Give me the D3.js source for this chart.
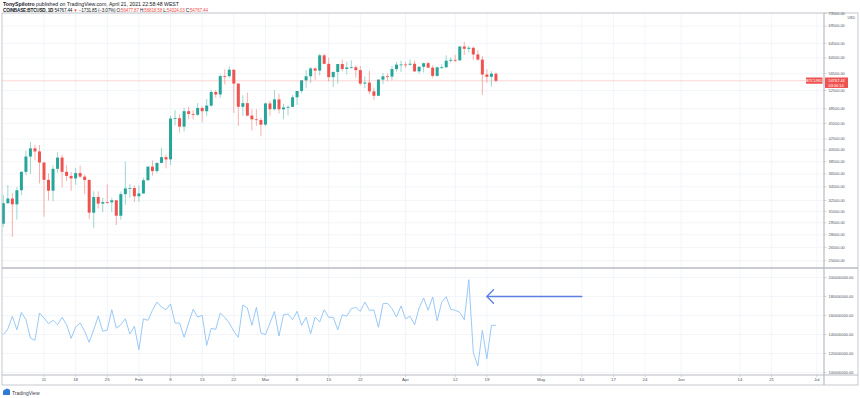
<!DOCTYPE html>
<html>
<head>
<meta charset="utf-8">
<script src="https://cdn.jsdelivr.net/npm/d3@7"></script>
<style>
  body { margin: 0; background: #fff; }
  svg { display: block; font-family: "Liberation Sans", Arial, sans-serif; }
</style>
</head>
<body>
<svg id="chart"></svg>
<script>
// daily candles, Jan 2 .. Apr 21 2021 (COINBASE:BTCUSD, 1D)
const startDate = "2021-01-02";

const opens = [
  29376, 32127, 32782, 31971, 33992, 36824, 39371, 40797, 40254, 38356,
  35566, 33923, 37316, 39187, 36825, 36178, 35792, 36630, 36069, 35548,
  30826, 33005, 32067, 32278, 32244, 32536, 30420, 33420, 34262, 34320,
  33108, 33520, 35510, 37675, 36950, 38290, 39260, 38880, 46450, 46530,
  44850, 47970, 47400, 47230, 48650, 47960, 49150, 52150, 51590, 55900,
  55880, 57480, 54100, 48900, 49680, 47060, 46300, 46150,
  45240, 49620, 48380, 50500, 48360, 48750, 48880, 50970, 52390, 54880,
  55850, 57800, 57250, 61190, 58970, 55650, 56920, 58920, 57660, 58030,
  58100, 57370, 54100, 54350, 52300, 51300, 55050, 55850, 55780, 57630,
  58760,
  58800, 58730, 58990, 57060, 58210, 59130, 57990, 55950, 58080, 58100,
  59770, 60000, 59860, 63580, 62960, 63240, 61430, 60070, 56280, 55720, 56478
];
const highs = [
  33300, 34778, 33600, 34437, 36939, 40365, 41950, 41380, 41400, 38356,
  36600, 37850, 40100, 39700, 37900, 36800, 37400, 37850, 36400, 35600,
  33850, 33800, 32900, 34880, 32900, 32560, 33800, 38500, 34900, 34700,
  34700, 35900, 37700, 38700, 38300, 40900, 39700, 47000, 48200, 47300,
  48700, 48900, 48200, 49700, 49000, 50600, 52600, 52600, 56300, 57600,
  58350, 57500, 54200, 51400, 52000, 48400, 48400, 46600,
  49800, 50200, 52600, 51800, 49500, 49200, 51450, 52400, 54900, 57400,
  58100, 58000, 61700, 61600, 60600, 57000, 58950, 60100, 59500, 59900,
  58600, 58400, 55800, 57200, 53200, 55100, 56600, 56600, 58400, 59400,
  59800,
  59500, 60100, 59800, 58500, 59250, 59500, 58600, 58200, 58900, 61200,
  60700, 61300, 63800, 64900, 63800, 63600, 62600, 61000, 57600, 57100, 56819
];
const lows = [
  28946, 32000, 27734, 29900, 33288, 36300, 36500, 38720, 35000, 30300,
  32500, 32400, 36700, 34400, 35400, 33900, 34800, 35900, 33400, 30000,
  28800, 31400, 30900, 32000, 30900, 29200, 29900, 31900, 32900, 32300,
  32300, 33450, 35400, 36200, 36600, 38200, 37400, 37950, 45100, 43700,
  43900, 46300, 46300, 47000, 45700, 47000, 48900, 50900, 50800, 53900,
  55500, 47600, 45000, 47000, 46900, 44100, 45000, 43000,
  45000, 47050, 48100, 47500, 46300, 47100, 48880, 49300, 51850, 53000,
  54300, 55000, 56100, 58900, 54600, 53300, 54100, 57000, 56300, 57800,
  55500, 53700, 53000, 51700, 50400, 51300, 53950, 54700, 54900, 57000,
  56900,
  57900, 58500, 56900, 56500, 56800, 57900, 55500, 55750, 57700, 57900,
  59300, 59400, 59860, 61300, 62000, 60000, 59700, 51500, 54300, 53400, 54324
];
const closes = [
  32127, 32782, 31971, 33992, 36824, 39371, 40797, 40254, 38356, 35566,
  33923, 37316, 39187, 36825, 36178, 35792, 36630, 36069, 35548, 30826,
  33005, 32067, 32278, 32244, 32536, 30420, 33420, 34262, 34320, 33108,
  33520, 35510, 37675, 36950, 38290, 39260, 38880, 46450, 46530, 44850,
  47970, 47400, 47230, 48650, 47960, 49150, 52150, 51590, 55900, 55880,
  57480, 54100, 48900, 49680, 47060, 46300, 46150, 45240,
  49620, 48380, 50500, 48360, 48750, 48880, 50970, 52390, 54880, 55850,
  57800, 57250, 61190, 58970, 55650, 56920, 58920, 57660, 58030, 58100,
  57370, 54100, 54350, 52300, 51300, 55050, 55850, 55780, 57630, 58760,
  58800,
  58730, 58990, 57060, 58210, 59130, 57990, 55950, 58080, 58100, 59770,
  60000, 59860, 63580, 62960, 63240, 61430, 60070, 56280, 55720, 56499, 54767
];

// lower pane indicator, in millions
const indicator = [
  140, 145.8, 159.2, 145, 163.3, 155.6, 136.3, 133.9, 162.6, 157.4,
  151.4, 154.9, 150.3, 158.1, 150.3, 136, 147.9, 152.1, 143.4, 131.8,
  145, 159.2, 143.4, 144.7, 166.1, 146.8, 150.3, 156.6, 140.5, 148.6,
  124, 156.6, 154.9, 165.5, 174.2, 168.9, 166.1, 172.1, 152.1, 152.1,
  137.1, 152.1, 166.5, 158.4, 160.2, 128.6, 146.5, 145.4, 162.6, 158.1,
  152.1, 143.4, 137.1, 171.1, 167.9, 149.7, 168.6, 141.6, 139.8, 152.1,
  164.2, 138.4, 160.8, 161.6, 155.6, 164.4, 149.7, 158.1, 140.8, 158.4,
  153.2, 166.1, 158.1, 158.1, 145, 160.8, 159.2, 167.2, 168.6, 164.4,
  174.2, 165.5, 165.8, 147.6, 172.4, 172.8, 167.2, 158.4, 170, 156.6,
  159.2, 150.3, 167.9, 178.4, 165.5, 179.5, 154.5, 173.9, 179.8, 166.5,
  165.5, 163.3, 155.6, 197.7, 120.8, 106.8, 144.4, 114.5, 149.7, 149.7
];

const priceTicks = [73500, 69500, 64500, 60500, 56500, 52500, 48500, 45500, 42500,
  40500, 38500, 36500, 34500, 32500, 31000, 29500, 28000, 26500, 25000];
const indicatorTicks = [100, 120, 140, 160, 180, 200];

const timeTicks = ["2021-01-11", "2021-01-18", "2021-01-25", "2021-02-01", "2021-02-08",
  "2021-02-15", "2021-02-22", "2021-03-01", "2021-03-08", "2021-03-15", "2021-03-22",
  "2021-04-01", "2021-04-12", "2021-04-19", "2021-05-01", "2021-05-10", "2021-05-17",
  "2021-05-24", "2021-06-01", "2021-06-14", "2021-06-21", "2021-07-01"];
const timeLabels = ["11", "18", "25", "Feb", "8", "15", "22", "Mar", "8", "15", "22",
  "Apr", "12", "19", "May", "10", "17", "24", "Jun", "14", "21", "Jul"];

const lastPrice = 54767.44;
const arrowFrom = "2021-05-10", arrowTo = "2021-04-19", arrowLevel = 180;

const width = 860, height = 398;
const left = 2, right = 824, outerRight = 858;
const mainTop = 13, mainBottom = 268, lowBottom = 375, axisBottom = 385;

const green = "#26a69a", red = "#ef5350";
const gridColor = "#eff2f7", frameColor = "#b8bbc3", textColor = "#50535e";

const parse = d3.utcParse("%Y-%m-%d");
const dates = opens.map((_, i) => d3.utcDay.offset(parse(startDate), i));
const candles = dates.map((d, i) => ({
  date: d, open: opens[i], high: highs[i], low: lows[i], close: closes[i], ind: indicator[i]
}));

const svg = d3.select("#chart").attr("width", width).attr("height", height);
svg.append("rect").attr("width", width).attr("height", height).attr("fill", "#fff");

const x = d3.scaleUtc()
  .domain([Date.UTC(2021, 0, 1), Date.UTC(2021, 6, 1)])
  .range([-1.2, 816.8]);
const y = d3.scaleLog().domain([24220, 73590]).range([mainBottom, mainTop]);
const yInd = d3.scaleLinear().domain([97.4, 210]).range([lowBottom, mainBottom]);

const defs = svg.append("defs");
defs.append("clipPath").attr("id", "clipMain")
  .append("rect").attr("x", left).attr("y", mainTop)
  .attr("width", right - left).attr("height", mainBottom - mainTop);
defs.append("clipPath").attr("id", "clipLow")
  .append("rect").attr("x", left).attr("y", mainBottom)
  .attr("width", right - left).attr("height", lowBottom - mainBottom);

// header
const head = svg.append("g").attr("fill", "#131722");
const l1 = head.append("text").attr("x", 3).attr("y", 6).style("font-size", "5.2px");
l1.append("tspan").attr("font-weight", "bold").text("TonySpilotro");
l1.append("tspan").text(" published on TradingView.com, April 21, 2021 22:58:48 WEST");
const l2 = head.append("text").attr("x", 3).attr("y", 11.6).style("font-size", "4.6px")
  .attr("textLength", 205).attr("lengthAdjust", "spacing");
l2.append("tspan").attr("font-weight", "bold").text("COINBASE:BTCUSD, 1D");
l2.append("tspan").text(" 54767.44 ");
l2.append("tspan").attr("fill", red).text("▼");
l2.append("tspan").text(" −1731.85 (−3.07%) O:");
l2.append("tspan").attr("fill", red).text("56477.87");
l2.append("tspan").text(" H:");
l2.append("tspan").attr("fill", red).text("56818.58");
l2.append("tspan").text(" L:");
l2.append("tspan").attr("fill", red).text("54324.03");
l2.append("tspan").text(" C:");
l2.append("tspan").attr("fill", red).text("54767.44");

// grid
const grid = svg.append("g").attr("stroke", gridColor).attr("stroke-width", 0.8);
grid.selectAll(".vg").data(timeTicks).join("line")
  .attr("x1", d => x(parse(d))).attr("x2", d => x(parse(d)))
  .attr("y1", mainTop).attr("y2", lowBottom);
grid.selectAll(".hg").data(priceTicks).join("line")
  .attr("x1", left).attr("x2", right)
  .attr("y1", d => y(d)).attr("y2", d => y(d));
grid.selectAll(".ig").data(indicatorTicks).join("line")
  .attr("x1", left).attr("x2", right)
  .attr("y1", d => yInd(d)).attr("y2", d => yInd(d));

// candles
const main = svg.append("g").attr("clip-path", "url(#clipMain)");
const bw = 3;
const c = main.selectAll("g.candle").data(candles).join("g").attr("class", "candle");
c.append("line")
  .attr("x1", d => x(d.date)).attr("x2", d => x(d.date))
  .attr("y1", d => y(d.high)).attr("y2", d => y(d.low))
  .attr("stroke", d => d.close >= d.open ? green : red)
  .attr("stroke-opacity", 0.5)
  .attr("stroke-width", 0.9);
c.append("rect")
  .attr("x", d => x(d.date) - bw / 2)
  .attr("width", bw)
  .attr("y", d => y(Math.max(d.open, d.close)))
  .attr("height", d => Math.max(0.8, Math.abs(y(d.open) - y(d.close))))
  .attr("fill", d => d.close >= d.open ? green : red);

// last price line
main.append("line")
  .attr("x1", left).attr("x2", right)
  .attr("y1", y(lastPrice)).attr("y2", y(lastPrice))
  .attr("stroke", red).attr("stroke-opacity", 0.3)
  .attr("stroke-width", 0.8);

// indicator line
const low = svg.append("g").attr("clip-path", "url(#clipLow)");
low.append("path")
  .datum(candles)
  .attr("fill", "none")
  .attr("stroke", "#8dc3f5")
  .attr("stroke-width", 0.9)
  .attr("d", d3.line().x(d => x(d.date)).y(d => yInd(d.ind)));

// annotation arrow
const ay = yInd(arrowLevel), ax0 = x(parse(arrowTo)), ax1 = x(parse(arrowFrom));
const arrow = svg.append("g").attr("stroke", "#5d7fe3").attr("stroke-width", 1.3)
  .attr("fill", "none").attr("stroke-linecap", "round");
arrow.append("line").attr("x1", ax0).attr("x2", ax1).attr("y1", ay).attr("y2", ay);
arrow.append("polyline").attr("points", `${ax0 + 6.6},${ay - 6.7} ${ax0},${ay} ${ax0 + 6.6},${ay + 6.7}`);

// frames
const frame = svg.append("g").attr("stroke", frameColor).attr("fill", "none");
frame.append("rect").attr("x", left).attr("y", mainTop)
  .attr("width", outerRight - left).attr("height", axisBottom - mainTop).attr("stroke-width", 0.8);
frame.append("line").attr("x1", right).attr("x2", right).attr("y1", mainTop).attr("y2", axisBottom)
  .attr("stroke-width", 1.2);
frame.append("line").attr("x1", left).attr("x2", outerRight).attr("y1", mainBottom).attr("y2", mainBottom)
  .attr("stroke-width", 1.4);
frame.append("line").attr("x1", left).attr("x2", outerRight).attr("y1", lowBottom).attr("y2", lowBottom)
  .attr("stroke-width", 1);

// price axis
const pAxis = svg.append("g").style("font-size", "3.9px").attr("fill", textColor);
pAxis.selectAll("line").data(priceTicks).join("line")
  .attr("x1", right).attr("x2", right + 2.5)
  .attr("y1", d => y(d)).attr("y2", d => y(d))
  .attr("stroke", frameColor).attr("stroke-width", 0.6);
pAxis.selectAll("text").data(priceTicks).join("text")
  .attr("x", right + 4.5).attr("y", d => y(d)).attr("dy", "0.35em")
  .text(d => d.toFixed(2));
svg.append("text").attr("x", outerRight - 3).attr("y", y(73500) + 6)
  .attr("text-anchor", "end").style("font-size", "3.6px").attr("fill", textColor).text("USD");

// indicator axis
const iAxis = svg.append("g").style("font-size", "3.9px").attr("fill", textColor);
iAxis.selectAll("line").data(indicatorTicks).join("line")
  .attr("x1", right).attr("x2", right + 2.5)
  .attr("y1", d => yInd(d)).attr("y2", d => yInd(d))
  .attr("stroke", frameColor).attr("stroke-width", 0.6);
iAxis.selectAll("text").data(indicatorTicks).join("text")
  .attr("x", right + 4.5).attr("y", d => yInd(d)).attr("dy", "0.35em")
  .text(d => (d * 1e6).toFixed(2));

// time axis
const tAxis = svg.append("g").style("font-size", "4.4px").attr("fill", textColor);
tAxis.selectAll("line").data(timeTicks).join("line")
  .attr("x1", d => x(parse(d))).attr("x2", d => x(parse(d)))
  .attr("y1", lowBottom).attr("y2", lowBottom + 2)
  .attr("stroke", frameColor).attr("stroke-width", 0.6);
tAxis.selectAll("text").data(timeTicks).join("text")
  .attr("x", d => x(parse(d))).attr("y", lowBottom + 6.4)
  .attr("text-anchor", "middle")
  .text((d, i) => timeLabels[i]);

// last price tags
const py = y(lastPrice);
svg.append("rect").attr("x", 806).attr("y", py - 3.3).attr("width", 16.5).attr("height", 6.2)
  .attr("fill", red).attr("rx", 0.5);
svg.append("text").attr("x", 814.2).attr("y", py).attr("dy", "0.35em")
  .attr("text-anchor", "middle").style("font-size", "4px").attr("fill", "#fff").text("BTCUSD");
svg.append("rect").attr("x", right + 1).attr("y", py - 3.3).attr("width", 23).attr("height", 10.5)
  .attr("fill", red);
svg.append("text").attr("x", right + 4.5).attr("y", py).attr("dy", "0.35em")
  .style("font-size", "3.9px").attr("fill", "#fff").text(lastPrice.toFixed(2));
svg.append("text").attr("x", right + 4.5).attr("y", py + 4.6).attr("dy", "0.35em")
  .style("font-size", "3.9px").attr("fill", "#fff").text("03:00:14");

// footer logo
const logo = svg.append("g");
logo.append("path").attr("d", "M3,395 L3,392 Q3,389.5 5.5,389.5 Q6.5,388 8,389 Q10.5,389.2 10,392 L10,395 Z")
  .attr("fill", "#2e7bd6");
logo.append("text").attr("x", 12).attr("y", 394.6).style("font-size", "5px")
  .attr("fill", "#3a3e4a").text("TradingView");
</script>
</body>
</html>
